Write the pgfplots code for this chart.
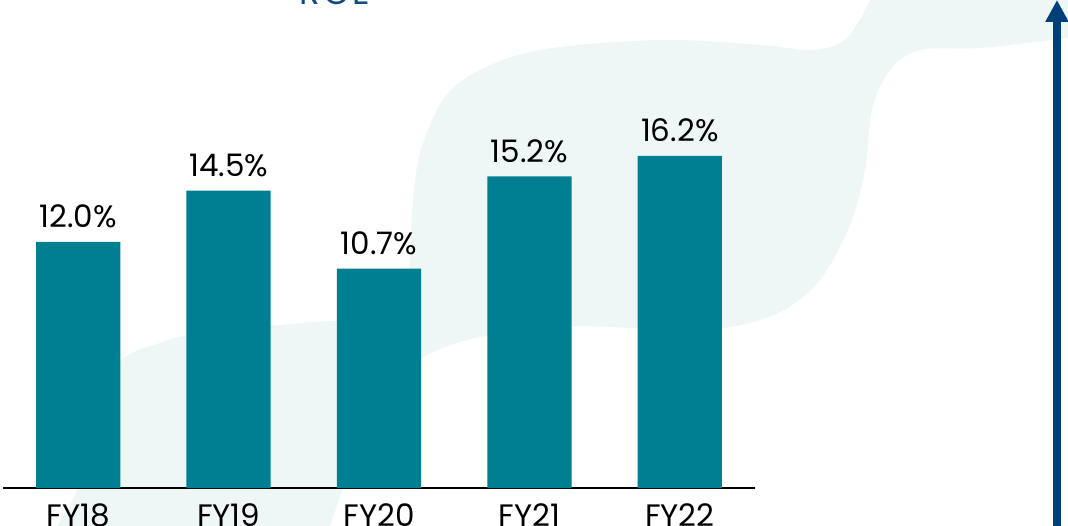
\documentclass[border=0pt]{standalone}
\usepackage{pgfplots}
\pgfplotsset{compat=1.18}
\usetikzlibrary{arrows.meta}
\usepackage{fontspec}
\setmainfont{Poppins}
\newfontfamily\titlefont[LetterSpace=8]{Poppins}
\definecolor{barteal}{RGB}{0,126,146}
\definecolor{blob}{RGB}{238,247,246}
\definecolor{navy}{RGB}{0,64,120}
\definecolor{titleblue}{RGB}{16,74,128}
\begin{document}
\begin{tikzpicture}
\path[use as bounding box] (0,0) rectangle (1068bp,526bp);
\begin{scope}[x=1bp,y=1bp]
\fill[blob] plot[smooth,tension=0.55] coordinates {(57,0) (77,36) (100,106) (120,164) (160,183) (200,193) (300,203) (392,212) (408,246) (413,326) (423,383) (455,440) (530,474) (657,486) (760,481) (813,476) (847,488) (870,526)}
  -- (1068,526) -- (1068,488)
  -- plot[smooth,tension=0.55] coordinates {(1068,488) (980,478) (920,476) (890,456) (872,416) (865,356) (850,301) (820,246) (780,214) (723,198) (640,198) (567,199) (467,186) (400,153) (360,86) (343,38) (330,0)}
  -- cycle;
\node[anchor=base, text=titleblue, inner sep=0pt] at (335,521) {\titlefont\fontsize{34bp}{40bp}\selectfont ROE};
\draw[navy, line width=8bp, -{Triangle[width=22bp,length=22bp]}] (1057,-5) -- (1057,526);
\end{scope}
\begin{axis}[
  at={(3bp,38bp)}, anchor=south west,
  scale only axis, width=752bp, height=488bp,
  xmin=-0.5, xmax=4.5, ymin=0, ymax=23.8,
  clip=false,
  axis x line=bottom, x axis line style={-, line width=1.6bp, black},
  axis y line=none,
  xtick={0,1,2,3,4},
  xticklabels={FY18,FY19,FY20,FY21,FY22},
  xtick style={draw=none},
  xticklabel style={anchor=base, yshift=-36bp, inner sep=0pt, font=\fontsize{31bp}{37bp}\selectfont, text=black},
  ytick=\empty,
  /pgf/number format/assume math mode=true,
  nodes near coords={\pgfmathprintnumber[fixed,precision=1,fixed zerofill,assume math mode=true]{\pgfplotspointmeta}\%},
  every node near coord/.append style={anchor=base, yshift=14bp, inner sep=0pt, font=\fontsize{31bp}{37bp}\selectfont, text=black},
]
\addplot[ybar, bar width=0.56, fill=barteal, draw=none] coordinates {(0,12.0) (1,14.5) (2,10.7) (3,15.2) (4,16.2)};
\end{axis}
\end{tikzpicture}
\end{document}
